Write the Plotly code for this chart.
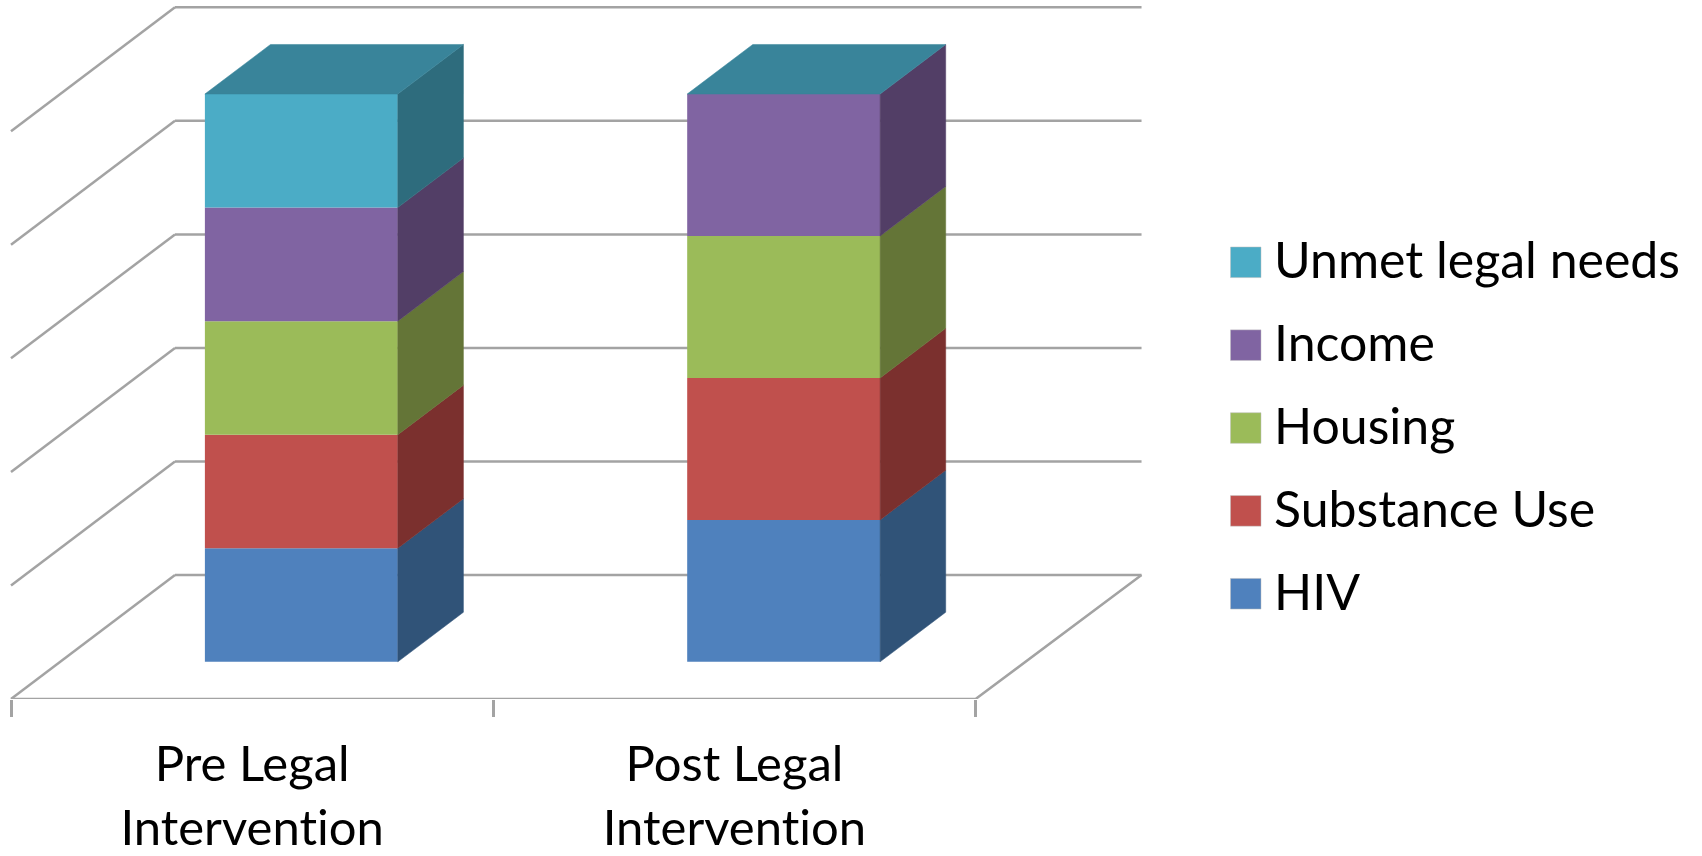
import plotly.graph_objects as go

categories = ["Pre Legal<br>Intervention", "Post Legal<br>Intervention"]
series_names = ["HIV", "Substance Use", "Housing", "Income", "Unmet legal needs"]
hiv = [20, 25]
substance_use = [20, 25]
housing = [20, 25]
income = [20, 25]
unmet_legal_needs = [20, 0]
grid_levels = [0, 20, 40, 60, 80, 100]

series_values = [hiv, substance_use, housing, income, unmet_legal_needs]
front_colors = ["#4F81BD", "#C0504D", "#9BBB59", "#8064A2", "#4BACC6"]
side_colors = ["#305378", "#7B302E", "#647537", "#523E66", "#2E6C7D"]
top_color = "#39849A"
grid_color = "#A3A3A3"
font_family = "Lato"

# pixel calibration of the picture
W, H = 1702, 856
X0_PX, Y0_PX = 11.0, 699.3      # front-left corner of the floor
CAT_PX = 482.3                  # width of one category
UNIT_PX = 5.68                  # height of one percent
DEPTH_DX_PX, DEPTH_DY_PX = 164.0, 124.0  # floor depth vector

KX = DEPTH_DX_PX / CAT_PX
KY = DEPTH_DY_PX / UNIT_PX
BAR_W = 0.4
Z0, Z1 = 0.3, 0.7
LINE_W = 2.5
BACK_RIGHT = 2.004


def proj(x, y, z):
    """Oblique projection of (category, percent, depth) to axis coordinates."""
    return x + z * KX, y + z * KY


def poly(points):
    xs, ys = zip(*[proj(*p) for p in points])
    return list(xs) + [xs[0]], list(ys) + [ys[0]]


fig = go.Figure()
shapes = []

# Back wall lines pass behind the bars
for lv in grid_levels:
    (xa, ya), (xb, yb) = proj(0, lv, 1), proj(BACK_RIGHT, lv, 1)
    shapes.append(dict(type="line", layer="below", xref="x", yref="y", x0=xa, y0=ya, x1=xb, y1=yb,
                       line=dict(color=grid_color, width=LINE_W)))

# Left wall and floor edges
for lv in grid_levels:
    xs, ys = zip(proj(0, lv, 0), proj(0, lv, 1))
    fig.add_trace(go.Scatter(x=xs, y=ys, mode="lines", line=dict(color=grid_color, width=LINE_W),
                             cliponaxis=False, showlegend=False, hoverinfo="skip"))
xs, ys = zip(proj(0, 0, 0), proj(2, 0, 0), proj(BACK_RIGHT, 0, 1))
fig.add_trace(go.Scatter(x=xs, y=ys, mode="lines", line=dict(color=grid_color, width=LINE_W),
                         cliponaxis=False, showlegend=False, hoverinfo="skip"))

# Front faces, side faces, top faces
offset_x, offset_y = Z0 * KX, Z0 * KY
cumulative = [0.0 for _ in categories]
for name, vals, fc, sc in zip(series_names, series_values, front_colors, side_colors):
    fig.add_trace(go.Bar(
        x=[i + 0.5 + offset_x for i in range(len(categories))],
        y=vals,
        base=[c + offset_y for c in cumulative],
        width=BAR_W,
        name=name,
        marker=dict(color=fc, line=dict(width=0)),
        showlegend=False,
    ))
    for i, v in enumerate(vals):
        if v == 0:
            continue
        x1 = i + 0.5 + BAR_W / 2
        b, t = cumulative[i], cumulative[i] + v
        px, py = poly([(x1, b, Z0), (x1, b, Z1), (x1, t, Z1), (x1, t, Z0)])
        fig.add_trace(go.Scatter(x=px, y=py, mode="lines", fill="toself", fillcolor=sc,
                                 line=dict(color=sc, width=0.5), showlegend=False, hoverinfo="skip"))
    cumulative = [c + v for c, v in zip(cumulative, vals)]

for i, total in enumerate(cumulative):
    x0, x1 = i + 0.5 - BAR_W / 2, i + 0.5 + BAR_W / 2
    px, py = poly([(x0, total, Z0), (x1, total, Z0), (x1, total, Z1), (x0, total, Z1)])
    fig.add_trace(go.Scatter(x=px, y=py, mode="lines", fill="toself", fillcolor=top_color,
                             line=dict(color=top_color, width=0.5), showlegend=False, hoverinfo="skip"))

# Legend, top entry is the last series
annotations = []
LEG_TOP = 262.4
LEG_STEP = 82.9
for k, (name, fc) in enumerate(zip(reversed(series_names), reversed(front_colors))):
    cy = LEG_TOP + k * LEG_STEP
    shapes.append(dict(type="rect", xref="paper", yref="paper",
                       x0=1230.5 / W, x1=1261 / W,
                       y0=(Y0_PX - (cy + 15.3)) / Y0_PX, y1=(Y0_PX - (cy - 15.3)) / Y0_PX,
                       fillcolor=fc, line=dict(color="#BFBFBF", width=0.5)))
    annotations.append(dict(xref="paper", yref="paper", x=1272 / W, y=(Y0_PX - (cy - 3)) / Y0_PX,
                            text=name, showarrow=False, xanchor="left", yanchor="middle",
                            font=dict(family=font_family, size=50, color="#000000")))

fig.update_layout(
    width=W, height=H,
    margin=dict(l=0, r=0, t=0, b=H - Y0_PX, pad=0, autoexpand=False),
    paper_bgcolor="#FFFFFF", plot_bgcolor="#FFFFFF",
    barmode="overlay",
    showlegend=False,
    shapes=shapes,
    annotations=annotations,
    xaxis=dict(
        range=[-X0_PX / CAT_PX, (W - X0_PX) / CAT_PX],
        tickmode="array",
        tickvals=[i + 0.5 for i in range(len(categories))],
        ticktext=categories,
        ticks="",
        tickfont=dict(family=font_family, size=49, color="#000000"),
        ticklabelstandoff=32,
        showgrid=False, zeroline=False, showline=False,
        minor=dict(ticks="outside", ticklen=17, tickwidth=LINE_W, tickcolor=grid_color,
                   tickmode="array", tickvals=list(range(len(categories) + 1)), showgrid=False),
        fixedrange=True,
    ),
    yaxis=dict(
        range=[0, Y0_PX / UNIT_PX],
        showticklabels=False, ticks="", showgrid=False, zeroline=False, showline=False,
        fixedrange=True,
    ),
)

page_style = (
    "document.body.style.margin='0';"
    "document.documentElement.style.overflow='hidden';"
    "var s=document.createElement('style');"
    "s.textContent='svg text{font-variant-ligatures:none !important}';"
    "document.head.appendChild(s);"
)
fig.write_html("out.html", config={"displayModeBar": False}, post_script=page_style)
